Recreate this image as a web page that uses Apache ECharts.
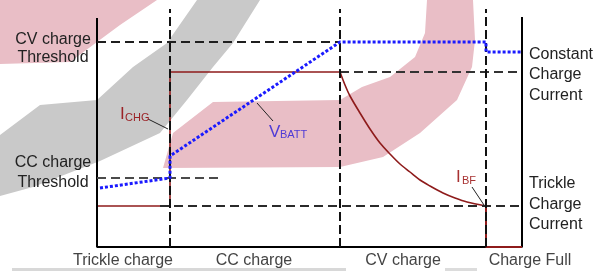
<!DOCTYPE html>
<html>
<head>
<meta charset="utf-8">
<script src="https://cdn.jsdelivr.net/npm/echarts@6/dist/echarts.min.js"></script>
<style>
  html, body { margin: 0; padding: 0; background: #fff; }
  #chart { width: 603px; height: 271px; }
</style>
</head>
<body>
<div id="chart"></div>
<script>
// phases along the time axis
const phaseNames = ['Trickle charge', 'CC charge', 'CV charge', 'Charge Full']
const phaseEnds = [73, 243, 389, 425]

// level thresholds (arbitrary units)
const cvThreshold = 205
const ccThreshold = 69
const ccCurrent = 175
const trickleCurrent = 41

const leftLabels = [['CV charge', 'Threshold'], ['CC charge', 'Threshold']]
const rightLabels = [['Constant', 'Charge', 'Current'], ['Trickle', 'Charge', 'Current']]

// battery voltage
const vbatt = [[3, 59], [73, 69], [73, 91], [243, 205], [389, 205], [389, 195], [425, 195]]
// charge current: trickle + constant current part
const ichg = [[0, 41], [73, 41], [73, 175], [243, 175]]
// CV taper down to I_BF
const ibf = [[243, 175], [248, 162], [253, 151], [263, 134], [273, 118], [283, 104], [293, 93],
  [303, 83], [313, 75], [323, 67], [333, 61], [346, 54], [358, 49], [370, 45], [389, 41]]
// charge full
const ifull = [[389, 41], [389, 0], [425, 0]]

const FONT = "'Liberation Sans', Arial, sans-serif"
const RED = '#8e1b1b'

const chart = echarts.init(document.getElementById('chart'))

const lineSeries = (data, color, width, type, extra) => Object.assign({
  type: 'line',
  data,
  symbol: 'none',
  clip: false,
  silent: true,
  animation: false,
  lineStyle: { color, width, type: type || 'solid', cap: 'butt' }
}, extra || {})

const dash = [9, 5]

const series = [
  lineSeries(ichg, RED, 1.6),
  lineSeries(ibf, RED, 1.6, 'solid', { smooth: 0.3 }),
  // frame
  lineSeries([[0, 229], [0, 0], [phaseEnds[3], 0], [phaseEnds[3], 230]], '#000', 2),
  lineSeries(ifull, RED, 2),
  // horizontal guides
  lineSeries([[0, cvThreshold], [phaseEnds[1], cvThreshold]], '#1e1e1e', 2, dash),
  lineSeries([[phaseEnds[1], ccCurrent], [phaseEnds[3], ccCurrent]], '#333', 2, dash),
  lineSeries([[0, ccThreshold], [121, ccThreshold]], '#4a4a4a', 2, dash),
  lineSeries([[63, trickleCurrent], [phaseEnds[3], trickleCurrent]], '#2a2a2a', 2, dash),
  // phase dividers
  ...phaseEnds.slice(0, 3).map(x => lineSeries([[x, 0], [x, 238]], '#111', 2, [9, 4])),
  // VBATT
  lineSeries(vbatt, '#1a1aff', 3, [3, 2])
]

const text = (str, x, y, opts) => ({
  type: 'text',
  z: 10,
  style: Object.assign({
    text: str, x, y,
    font: '16px ' + FONT,
    fill: '#222',
    align: 'left',
    verticalAlign: 'middle'
  }, opts || {})
})

const graphic = [
  // faded watermark behind the chart
  { type: 'polygon', z: 0, shape: { points: [[0, 0], [157, 0], [120, 25], [97, 42], [70, 62], [0, 64]] }, style: { fill: '#e9bec6' } },
  { type: 'polygon', z: 0, shape: { points: [[197, 0], [167, 43], [133, 67], [97, 100], [40, 105], [0, 135], [0, 196], [33, 187], [100, 161], [160, 133], [187, 100], [213, 67], [233, 43], [260, 0]] }, style: { fill: '#c9c9c9' } },
  { type: 'polygon', z: 0, shape: { points: [[213, 102], [340, 100], [362, 87], [390, 77], [415, 57], [425, 33], [427, 0], [473, 0], [475, 40], [472, 67], [457, 100], [420, 133], [383, 157], [340, 167], [163, 168], [173, 133]] }, style: { fill: '#e9bec6' } },
  { type: 'rect', z: 0, shape: { x: 12, y: 268, width: 334, height: 3 }, style: { fill: '#d8d8d8' } },
  { type: 'rect', z: 0, shape: { x: 445, y: 268, width: 32, height: 3 }, style: { fill: '#dcdcdc' } },

  // leader lines
  { type: 'line', z: 10, shape: { x1: 148, y1: 119, x2: 168, y2: 129 }, style: { stroke: '#222', lineWidth: 1 } },
  { type: 'line', z: 10, shape: { x1: 257, y1: 103, x2: 273, y2: 121 }, style: { stroke: '#222', lineWidth: 1 } },
  { type: 'line', z: 10, shape: { x1: 472, y1: 187, x2: 484, y2: 205 }, style: { stroke: '#222', lineWidth: 1 } },

  // curve names with subscripts
  text('I', 120, 114, { fill: '#9b2226', font: '17px ' + FONT }),
  text('CHG', 125, 118, { fill: '#9b2226', font: '11px ' + FONT }),
  text('V', 269, 132, { fill: '#4f3bd6', font: '17px ' + FONT }),
  text('BATT', 280, 135, { fill: '#4f3bd6', font: '11px ' + FONT }),
  text('I', 456, 177, { fill: '#a83232', font: '17px ' + FONT }),
  text('BF', 462, 181, { fill: '#a83232', font: '11px ' + FONT })
]

// left threshold labels
const leftY = [[40, 58], [163, 183]]
leftLabels.forEach((lines, i) => {
  lines.forEach((s, j) => graphic.push(text(s, 53, leftY[i][j], { align: 'center' })))
})

// right current labels
const rightY = [[55, 75, 96], [184, 205, 225]]
rightLabels.forEach((lines, i) => {
  lines.forEach((s, j) => graphic.push(text(s, 529, rightY[i][j])))
})

// phase names along the bottom
const phaseX = [123, 254, 403, 530]
phaseNames.forEach((s, i) => graphic.push(text(s, phaseX[i], 261, { align: 'center', fill: '#444' })))

chart.setOption({
  animation: false,
  grid: { left: 97, right: 81, top: 9, bottom: 24 },
  xAxis: { type: 'value', min: 0, max: 425, show: false },
  yAxis: { type: 'value', min: 0, max: 238, show: false },
  series,
  graphic
})
</script>
</body>
</html>
